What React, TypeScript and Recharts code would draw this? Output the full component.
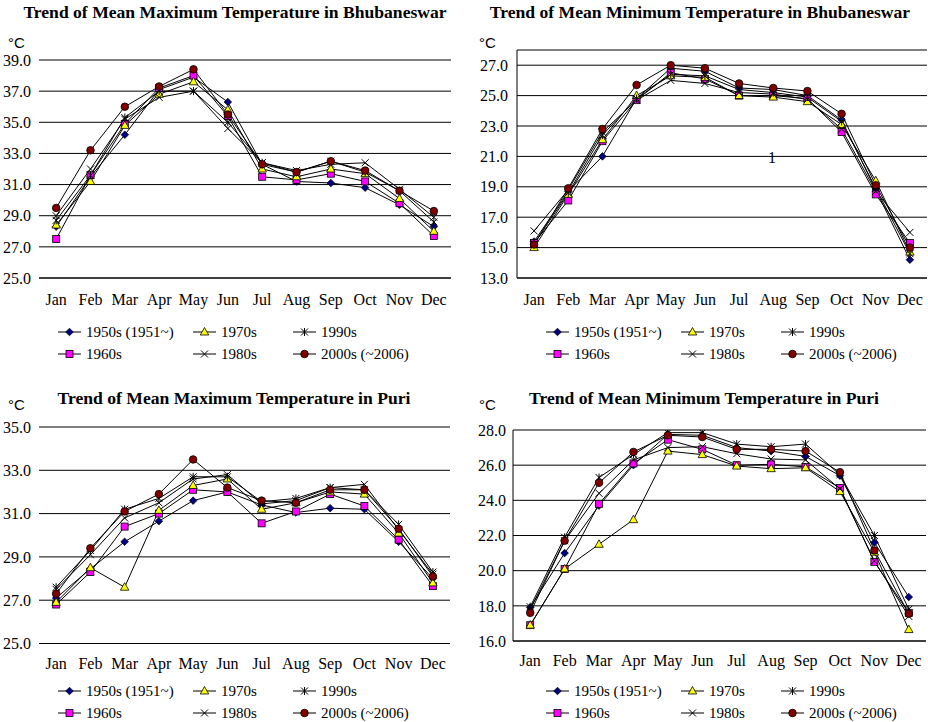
import React from "react";
import { LineChart, Line, XAxis, YAxis, CartesianGrid } from "recharts";

const months = ["Jan", "Feb", "Mar", "Apr", "May", "Jun", "Jul", "Aug", "Sep", "Oct", "Nov", "Dec"];
const decades = ["1950s (1951~)", "1960s", "1970s", "1980s", "1990s", "2000s (~2006)"];
const markerKinds = ["diamond", "square", "triangle", "cross", "star", "circle"];

// rows follow decades order: 1950s, 1960s, 1970s, 1980s, 1990s, 2000s
const bhubMax: number[][] = [
  [28.3, 31.5, 34.2, 37.1, 37.9, 36.3, 32.3, 31.2, 31.1, 30.8, 29.7, 28.3],
  [27.5, 31.6, 34.9, 37.2, 38.0, 35.4, 31.5, 31.3, 31.7, 31.2, 29.8, 27.7],
  [28.4, 31.2, 34.8, 36.8, 37.6, 35.8, 32.0, 31.5, 32.0, 31.7, 30.1, 28.0],
  [29.0, 32.0, 35.2, 36.6, 37.0, 34.6, 32.4, 31.9, 32.3, 32.4, 30.7, 28.9],
  [28.7, 31.6, 35.3, 37.0, 37.0, 35.0, 32.4, 31.8, 32.5, 31.8, 30.6, 28.6],
  [29.5, 33.2, 36.0, 37.3, 38.4, 35.5, 32.3, 31.8, 32.5, 31.9, 30.6, 29.3],
];

const bhubMin: number[][] = [
  [15.4, 18.7, 21.0, 24.8, 26.8, 26.6, 25.5, 25.4, 25.0, 23.4, 18.8, 14.2],
  [15.3, 18.1, 22.0, 24.7, 26.5, 26.1, 25.0, 25.0, 24.8, 22.6, 18.5, 15.3],
  [15.0, 18.5, 22.1, 25.0, 26.3, 26.2, 25.0, 24.9, 24.6, 23.1, 19.4, 14.7],
  [16.1, 18.8, 22.6, 24.7, 26.0, 25.8, 25.2, 25.1, 24.75, 22.8, 18.7, 16.0],
  [15.25, 18.6, 22.4, 24.8, 26.4, 26.3, 25.4, 25.2, 24.9, 23.3, 18.9, 14.6],
  [15.2, 18.9, 22.8, 25.7, 27.0, 26.8, 25.8, 25.5, 25.3, 23.8, 19.1, 15.0],
];

const puriMax: number[][] = [
  [27.1, 28.45, 29.7, 30.65, 31.6, 32.0, 31.4, 31.05, 31.25, 31.2, 29.7, 28.0],
  [26.8, 28.3, 30.4, 31.0, 32.1, 32.0, 30.55, 31.1, 31.9, 31.35, 29.8, 27.65],
  [26.9, 28.5, 27.6, 31.15, 32.3, 32.6, 31.2, 31.5, 32.0, 31.9, 30.1, 27.8],
  [27.5, 29.1, 30.8, 31.5, 32.6, 32.8, 31.45, 31.6, 32.2, 32.35, 30.25, 28.2],
  [27.6, 29.3, 31.2, 31.7, 32.7, 32.7, 31.55, 31.7, 32.2, 32.1, 30.5, 28.3],
  [27.3, 29.4, 31.1, 31.9, 33.5, 32.2, 31.6, 31.5, 32.1, 32.1, 30.3, 28.1],
];

const puriMin: number[][] = [
  [17.9, 21.0, 23.7, 26.0, 27.75, 27.7, 27.0, 26.8, 26.5, 25.4, 21.6, 18.5],
  [16.9, 20.1, 23.8, 26.1, 27.45, 26.9, 26.0, 26.05, 25.9, 24.7, 20.5, 17.6],
  [16.9, 20.1, 21.5, 22.9, 26.8, 26.6, 25.95, 25.8, 25.85, 24.5, 21.05, 16.65],
  [17.8, 21.7, 24.4, 26.3, 27.0, 27.05, 26.65, 26.35, 26.3, 24.65, 20.55, 17.4],
  [17.95, 21.9, 25.3, 26.6, 27.85, 27.85, 27.2, 27.05, 27.2, 25.45, 22.0, 17.8],
  [17.6, 21.7, 25.0, 26.75, 27.7, 27.6, 26.9, 26.9, 26.8, 25.6, 21.15, 17.55],
];

const bhubMaxTicks = [25, 27, 29, 31, 33, 35, 37, 39];
const bhubMinTicks = [13, 15, 17, 19, 21, 23, 25, 27];
const puriMaxTicks = [25, 27, 29, 31, 33, 35];
const puriMinTicks = [16, 18, 20, 22, 24, 26, 28];

const boundaryTicks = [0, 1, 2, 3, 4, 5, 6, 7, 8, 9, 10, 11, 12];
const monthTicks = months.map((_, i) => i + 0.5);

const serif = "'Liberation Serif', 'Times New Roman', serif";
const sans = "'Liberation Sans', Arial, sans-serif";

function Marker({ kind, cx, cy }: { kind: string; cx: number; cy: number }) {
  if (cx == null || cy == null) return null;
  switch (kind) {
    case "diamond":
      return (
        <polygon
          points={`${cx},${cy - 3.8} ${cx + 3.8},${cy} ${cx},${cy + 3.8} ${cx - 3.8},${cy}`}
          fill="#000080"
          stroke="#000"
          strokeWidth={0.7}
        />
      );
    case "square":
      return <rect x={cx - 3.5} y={cy - 3.5} width={7} height={7} fill="#ff00ff" stroke="#000" strokeWidth={0.8} />;
    case "triangle":
      return (
        <polygon
          points={`${cx},${cy - 4.5} ${cx + 4.2},${cy + 3} ${cx - 4.2},${cy + 3}`}
          fill="#ffff00"
          stroke="#000"
          strokeWidth={0.8}
        />
      );
    case "cross":
      return (
        <g stroke="#000" strokeWidth={1}>
          <line x1={cx - 3.5} y1={cy - 3.5} x2={cx + 3.5} y2={cy + 3.5} />
          <line x1={cx - 3.5} y1={cy + 3.5} x2={cx + 3.5} y2={cy - 3.5} />
        </g>
      );
    case "star":
      return (
        <g stroke="#000" strokeWidth={1}>
          <line x1={cx - 3.5} y1={cy - 3.5} x2={cx + 3.5} y2={cy + 3.5} />
          <line x1={cx - 3.5} y1={cy + 3.5} x2={cx + 3.5} y2={cy - 3.5} />
          <line x1={cx} y1={cy - 4} x2={cx} y2={cy + 4} />
        </g>
      );
    default:
      return <circle cx={cx} cy={cy} r={3.8} fill="#800000" stroke="#000" strokeWidth={0.8} />;
  }
}

type PanelProps = {
  series: number[][];
  ticks: number[];
  domain: [number, number];
  left: number;
  top: number;
  plotLeft: number;
  plotRight: number;
  plotTop: number;
  plotBottom: number;
  yLine: boolean;
  yTickMargin: number;
  monthMargin: number;
};

const H = 320;

function Panel(p: PanelProps) {
  const data = months.map((m, i) => {
    const row: Record<string, number | string> = { month: m, x: i + 0.5 };
    p.series.forEach((s, k) => {
      row["s" + k] = s[i];
    });
    return row;
  });
  return (
    <div style={{ position: "absolute", left: p.left, top: p.top }}>
      <LineChart
        width={464}
        height={H}
        data={data}
        margin={{ top: p.plotTop, right: 464 - p.plotRight, left: 0, bottom: H - p.plotBottom - 30 }}
      >
        <CartesianGrid vertical={false} stroke="#000" strokeWidth={1} />
        <XAxis
          type="number"
          dataKey="x"
          domain={[0, 12]}
          ticks={boundaryTicks}
          tick={false}
          tickSize={-5}
          height={1}
          stroke="#000"
          allowDataOverflow
        />
        <XAxis
          xAxisId="m"
          type="number"
          dataKey="x"
          domain={[0, 12]}
          ticks={monthTicks}
          interval={0}
          tickFormatter={(v: number) => months[Math.floor(v)]}
          axisLine={false}
          tickLine={false}
          tickMargin={p.monthMargin}
          height={29}
          tick={{ fontSize: 16, fill: "#000", fontFamily: serif }}
        />
        <YAxis
          type="number"
          domain={p.domain}
          ticks={p.ticks}
          interval={0}
          width={p.plotLeft}
          axisLine={p.yLine ? { stroke: "#000" } : false}
          tickLine={false}
          tickMargin={p.yTickMargin}
          tickFormatter={(v: number) => v.toFixed(1)}
          tick={{ fontSize: 16, fill: "#000", fontFamily: serif }}
          allowDataOverflow
        />
        {p.series.map((_, k) => (
          <Line
            key={k}
            dataKey={"s" + k}
            stroke="#000"
            strokeWidth={1}
            isAnimationActive={false}
            activeDot={false}
            dot={(d: any) => <Marker key={`${k}-${d.index}`} kind={markerKinds[k]} cx={d.cx} cy={d.cy} />}
          />
        ))}
      </LineChart>
    </div>
  );
}

const legendRows = [
  [0, 2, 4],
  [1, 3, 5],
];
const legendCols = [58, 193, 293];

function LegendBlock({ x0, y0 }: { x0: number; y0: number }) {
  return (
    <g>
      {legendRows.map((row, r) =>
        row.map((k, c) => {
          const lx = x0 + legendCols[c];
          const ly = y0 + r * 22;
          return (
            <g key={`${r}-${c}`}>
              <line x1={lx} y1={ly} x2={lx + 23} y2={ly} stroke="#000" strokeWidth={1} />
              <Marker kind={markerKinds[k]} cx={lx + 11.5} cy={ly} />
              <text x={lx + 28} y={ly + 5} fontSize={15} fontFamily={serif} fill="#000">
                {decades[k]}
              </text>
            </g>
          );
        })
      )}
    </g>
  );
}

export default function App() {
  return (
    <div style={{ position: "absolute", left: 0, top: 0, width: 928, height: 722, background: "#fff", overflow: "hidden", fontFamily: serif }}>
      <Panel series={bhubMax} ticks={bhubMaxTicks} domain={[25, 39]} left={0} top={0}
        plotLeft={39} plotRight={451} plotTop={60} plotBottom={278} yLine={false} yTickMargin={2} monthMargin={9} />
      <Panel series={bhubMin} ticks={bhubMinTicks} domain={[13, 28]} left={464} top={0}
        plotLeft={53} plotRight={463} plotTop={50} plotBottom={278} yLine={true} yTickMargin={3} monthMargin={9} />
      <Panel series={puriMax} ticks={puriMaxTicks} domain={[25, 35]} left={0} top={360}
        plotLeft={39} plotRight={450} plotTop={67} plotBottom={283.5} yLine={false} yTickMargin={2} monthMargin={7} />
      <Panel series={puriMin} ticks={puriMinTicks} domain={[16, 28]} left={464} top={360}
        plotLeft={49} plotRight={462} plotTop={70} plotBottom={281} yLine={true} yTickMargin={1} monthMargin={7} />

      <svg width={928} height={722} style={{ position: "absolute", left: 0, top: 0, pointerEvents: "none" }}>
        <g fontFamily={serif} fontWeight="bold" fontSize={17.6} fill="#000" textAnchor="middle">
          <text x={235} y={18}>Trend of Mean Maximum Temperature in Bhubaneswar</text>
          <text x={700} y={18}>Trend of Mean Minimum Temperature in Bhubaneswar</text>
          <text x={234} y={404}>Trend of Mean Maximum Temperature in Puri</text>
          <text x={704} y={404}>Trend of Mean Minimum Temperature in Puri</text>
        </g>
        <g fontFamily={sans} fontSize={15} fill="#000">
          <text x={8} y={48}>°C</text>
          <text x={479} y={48}>°C</text>
          <text x={8} y={410}>°C</text>
          <text x={479} y={410}>°C</text>
        </g>
        <text x={772} y={163} textAnchor="middle" fontFamily={serif} fontSize={16} fill="#000">1</text>
        <LegendBlock x0={0} y0={332} />
        <LegendBlock x0={488} y0={332} />
        <LegendBlock x0={0} y0={691} />
        <LegendBlock x0={488} y0={691} />
      </svg>
    </div>
  );
}
